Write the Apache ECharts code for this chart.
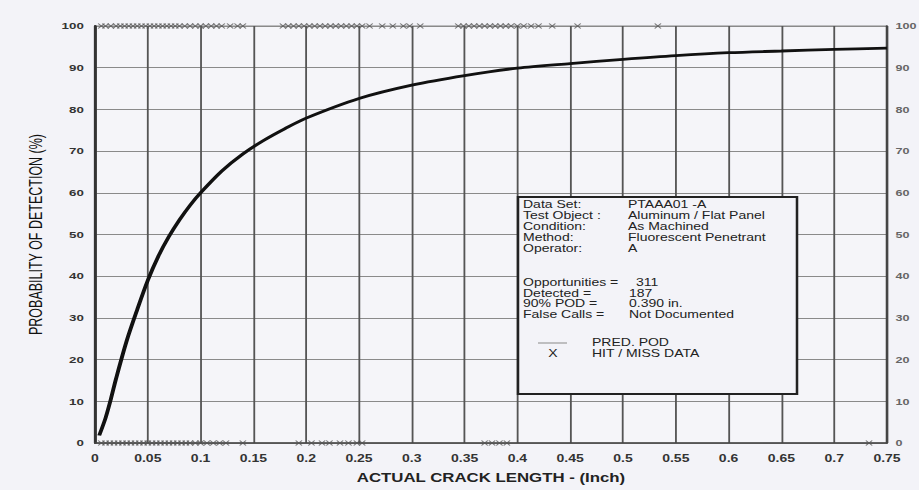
<!DOCTYPE html>
<html>
<head>
<meta charset="utf-8">
<script src="https://cdn.jsdelivr.net/npm/echarts@6/dist/echarts.min.js"></script>
<style>
  html, body { margin: 0; padding: 0; background: #f3f3f8; overflow: hidden; }
  #wrap { width: 919px; height: 490px; overflow: hidden; }
  #chart { width: 656px; height: 490px; transform-origin: 0 0; }
</style>
</head>
<body>
<div id="wrap"><div id="chart"></div></div>
<script>
// Predicted POD curve
const podX = [0.004, 0.01, 0.015, 0.02, 0.03, 0.04, 0.05, 0.06, 0.07, 0.08, 0.09, 0.10,
              0.12, 0.14, 0.16, 0.18, 0.20, 0.25, 0.30, 0.35, 0.40, 0.45, 0.50,
              0.55, 0.60, 0.65, 0.70, 0.75];
const podY = [1.8, 6.0, 10.5, 15.5, 24.5, 32.0, 39.0, 44.8, 49.5, 53.5, 57.0, 60.0,
              65.2, 69.3, 72.6, 75.4, 77.9, 82.6, 85.8, 88.1, 89.9, 91.0, 92.0,
              92.9, 93.6, 94.0, 94.4, 94.7];

// Hit (detected, plotted at 100 %) crack lengths
const hitX = [0.006, 0.010, 0.015, 0.020, 0.024, 0.028, 0.032, 0.036, 0.040, 0.044, 0.048,
              0.052, 0.056, 0.060, 0.064, 0.068, 0.072, 0.076, 0.080, 0.085, 0.090, 0.095,
              0.100, 0.105, 0.110, 0.115, 0.120, 0.128, 0.135, 0.140,
              0.178, 0.183, 0.188, 0.193, 0.198, 0.203, 0.208, 0.213, 0.218, 0.223, 0.228,
              0.233, 0.238, 0.243, 0.248, 0.253, 0.260,
              0.272, 0.282, 0.292, 0.298, 0.308,
              0.344, 0.349, 0.354, 0.359, 0.364, 0.369, 0.374, 0.379, 0.384, 0.389, 0.394,
              0.400, 0.406, 0.413, 0.420, 0.433, 0.457, 0.533];
// Miss (not detected, plotted at 0 %) crack lengths
const missX = [0.006, 0.010, 0.014, 0.018, 0.022, 0.026, 0.030, 0.034, 0.038, 0.042, 0.046,
               0.050, 0.054, 0.058, 0.062, 0.066, 0.070, 0.074, 0.078, 0.082, 0.086, 0.090,
               0.095, 0.100, 0.106, 0.112, 0.118, 0.124, 0.140,
               0.193, 0.205, 0.215, 0.222, 0.232, 0.240, 0.248, 0.253,
               0.369, 0.376, 0.383, 0.390, 0.733];

// Info box text
const infoLabels = ["Data Set:", "Test Object :", "Condition:", "Method:", "Operator:"];
const infoValues = ["PTAAA01 -A", "Aluminum / Flat Panel", "As Machined", "Fluorescent Penetrant", "A"];
const statLabels = ["Opportunities =", "Detected =", "90% POD =", "False Calls ="];
const statValues = ["311", "187", "0.390 in.", "Not Documented"];
const legendNames = ["PRED. POD", "HIT / MISS DATA"];

const W = 656, S = 919 / W;
const el = document.getElementById('chart');
el.style.transform = 'scaleX(' + S + ')';
const chart = echarts.init(el, null, { renderer: 'svg', width: W, height: 490 });

const FONT = 'Liberation Sans, Arial, sans-serif';
const px = v => v / S;   // convert target-pixel x to unscaled x

const graphics = [];
const boxL = px(518), boxR = px(797);
graphics.push({ type: 'rect', z: 100, shape: { x: boxL, y: 197, width: boxR - boxL, height: 197 },
  style: { fill: '#f3f3f8', stroke: '#222', lineWidth: 1.8 } });
const textStyle = (t, x, y) => ({ type: 'text', z: 101, x: x, y: y,
  style: { text: t, font: '10px ' + FONT, fill: '#222', textVerticalAlign: 'middle', verticalAlign: 'middle' } });
const rowY1 = [205, 216, 227, 238, 248.5];
infoLabels.forEach((t, i) => graphics.push(textStyle(t, px(523), rowY1[i])));
infoValues.forEach((t, i) => graphics.push(textStyle(t, px(628), rowY1[i])));
const rowY2 = [283, 293.5, 304, 315];
statLabels.forEach((t, i) => graphics.push(textStyle(t, px(523), rowY2[i])));
statValues.forEach((t, i) => graphics.push(textStyle(t, px(i === 0 ? 636 : 629), rowY2[i])));
graphics.push({ type: 'line', z: 101, shape: { x1: px(538), y1: 343, x2: px(567), y2: 343 },
  style: { stroke: '#888', lineWidth: 1 } });
graphics.push(textStyle(legendNames[0], px(592), 343));
graphics.push({ type: 'text', z: 101, x: px(553), y: 354,
  style: { text: 'X', font: '10px ' + FONT, fill: '#222', align: 'center', textAlign: 'center', verticalAlign: 'middle', textVerticalAlign: 'middle' } });
graphics.push(textStyle(legendNames[1], px(592), 354));

const xSymbol = 'path://M0,0L10,10M10,0L0,10';
const fmt = v => String(Math.round(v * 100) / 100);

chart.setOption({
  backgroundColor: '#f3f3f8',
  animation: false,
  grid: { left: px(95), right: W - px(887), top: 26, bottom: 47,
          outerBoundsMode: 'none', containLabel: false,
          show: true, borderColor: '#888', borderWidth: 1, backgroundColor: '#f5f5f9' },
  xAxis: {
    type: 'value', min: 0, max: 0.75, interval: 0.05,
    name: 'ACTUAL CRACK LENGTH - (Inch)', nameLocation: 'middle', nameGap: 29,
    nameTextStyle: { fontFamily: FONT, fontSize: 12, fontWeight: 'bold', color: '#222' },
    axisLine: { show: true, lineStyle: { color: '#444', width: 1.5 } },
    axisTick: { show: false },
    axisLabel: { fontFamily: FONT, fontSize: 10, fontWeight: 'bold', color: '#333', margin: 11,
                 formatter: fmt, showMaxLabel: true, showMinLabel: true },
    splitLine: { show: true, lineStyle: { color: '#555', width: 1.3 } }
  },
  yAxis: [{
    type: 'value', min: 0, max: 100, interval: 10, position: 'left',
    name: 'PROBABILITY OF DETECTION (%)', nameLocation: 'middle', nameGap: 36,
    nameTextStyle: { fontFamily: FONT, fontSize: 12.5, color: '#111' },
    axisLine: { show: true, lineStyle: { color: '#333', width: 2 } },
    axisTick: { show: false },
    axisLabel: { fontFamily: FONT, fontSize: 9.5, fontWeight: 'bold', color: '#333', margin: 8 },
    splitLine: { show: true, lineStyle: { color: '#8a8a8a', width: 1 } }
  }, {
    type: 'value', min: 0, max: 100, interval: 10, position: 'right',
    axisLine: { show: true, lineStyle: { color: '#444', width: 1.5 } },
    axisTick: { show: false },
    axisLabel: { fontFamily: FONT, fontSize: 9, fontWeight: 'bold', color: '#666', margin: 6 },
    splitLine: { show: false }
  }],
  series: [{
    name: 'PRED. POD', type: 'line', smooth: 0.3, showSymbol: false,
    data: podX.map((x, i) => [x, podY[i]]),
    lineStyle: { color: '#111', width: 2.8 }, z: 5
  }, {
    name: 'HIT', type: 'scatter', clip: false, symbol: xSymbol, symbolSize: [4.5, 5],
    data: hitX.map(x => [x, 100]),
    itemStyle: { color: 'none', borderColor: '#555', borderWidth: 1 }, z: 6
  }, {
    name: 'MISS', type: 'scatter', clip: false, symbol: xSymbol, symbolSize: [4.5, 5],
    data: missX.map(x => [x, 0]),
    itemStyle: { color: 'none', borderColor: '#555', borderWidth: 1 }, z: 6
  }],
  graphic: graphics
});
</script>
</body>
</html>
